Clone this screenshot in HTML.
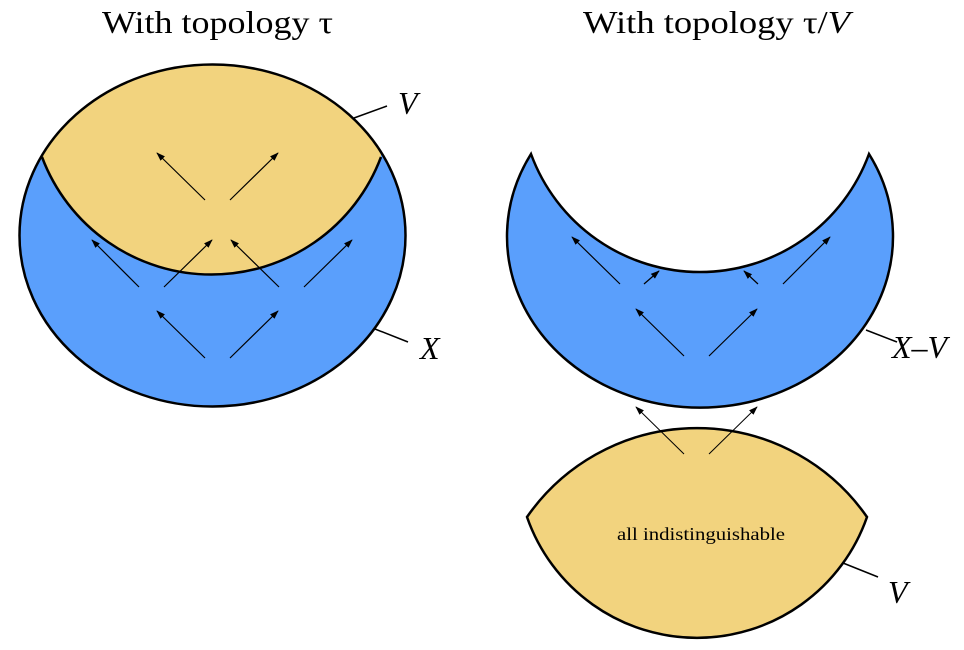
<!DOCTYPE html>
<html><head><meta charset="utf-8"><style>html,body{margin:0;padding:0;background:#fff}svg{display:block}</style></head>
<body>
<svg width="964" height="650" viewBox="0 0 964 650" xmlns="http://www.w3.org/2000/svg">
<defs>
<marker id="a" viewBox="0 0 10 10" refX="9" refY="5" markerWidth="9" markerHeight="9" markerUnits="userSpaceOnUse" orient="auto">
<path d="M0,1.5 L10,5 L0,8.5 z" fill="#000"/></marker>
<clipPath id="ce"><ellipse cx="212.5" cy="235.5" rx="193" ry="171"/></clipPath>
</defs>
<g font-family="Liberation Serif, serif" fill="#000">
<text x="102" y="33" font-size="32" textLength="231" lengthAdjust="spacingAndGlyphs">With topology τ</text>
<text x="583" y="33" font-size="32" textLength="267" lengthAdjust="spacingAndGlyphs">With topology τ/<tspan font-style="italic">V</tspan></text>
</g>
<!-- left -->
<ellipse cx="212.5" cy="235.5" rx="193" ry="171" fill="#5A9FFC"/>
<path d="M42,157 L42,40 L381,40 L381,157 A181,181 0 0 1 42,157 Z" fill="#F2D37E" clip-path="url(#ce)"/>
<path d="M381,157 A181,181 0 0 1 42,157" fill="none" stroke="#000" stroke-width="2.5"/>
<ellipse cx="212.5" cy="235.5" rx="193" ry="171" fill="none" stroke="#000" stroke-width="2.5"/>
<g stroke="#000" stroke-width="1.2" marker-end="url(#a)">
<line x1="205" y1="200" x2="157" y2="153"/><line x1="230" y1="200" x2="278" y2="153"/>
<line x1="139" y1="287" x2="92" y2="240"/><line x1="164" y1="287" x2="212" y2="240"/>
<line x1="279" y1="287" x2="231" y2="240"/><line x1="304" y1="287" x2="352" y2="240"/>
<line x1="205" y1="358" x2="157" y2="311"/><line x1="230" y1="358" x2="278" y2="311"/>
</g>
<line x1="354" y1="118" x2="387" y2="106" stroke="#000" stroke-width="1.5"/>
<line x1="375" y1="329" x2="408" y2="342" stroke="#000" stroke-width="1.5"/>
<g font-family="Liberation Serif, serif" font-style="italic" font-size="32" fill="#000">
<text x="398" y="114">V</text>
<text x="420" y="359">X</text>
<text x="892" y="358">X–V</text>
<text x="888" y="603">V</text>
</g>
<!-- right crescent -->
<path d="M531,154 A193,171 0 1 0 869,154 A180,180 0 0 1 531,154 Z" fill="#5A9FFC" stroke="#000" stroke-width="2.5"/>
<g stroke="#000" stroke-width="1.2" marker-end="url(#a)">
<line x1="620" y1="284" x2="572" y2="237"/><line x1="644" y1="284" x2="659" y2="271"/>
<line x1="758" y1="284" x2="744" y2="271"/><line x1="783" y1="284" x2="830" y2="237"/>
<line x1="684" y1="356" x2="636" y2="309"/><line x1="709" y1="356" x2="757" y2="309"/>
</g>
<line x1="866" y1="330" x2="897" y2="342" stroke="#000" stroke-width="1.5"/>
<!-- lens -->
<path d="M527,517 A207,207 0 0 1 867,517 A180,180 0 0 1 527,517 Z" fill="#F2D37E" stroke="#000" stroke-width="2.5"/>
<g stroke="#000" stroke-width="1" marker-end="url(#a)">
<line x1="684" y1="454" x2="636" y2="407"/><line x1="709" y1="454" x2="757" y2="407"/>
</g>
<line x1="843" y1="563" x2="878" y2="577" stroke="#000" stroke-width="1.5"/>
<text x="617" y="540" font-family="Liberation Serif, serif" font-size="18" textLength="168" lengthAdjust="spacingAndGlyphs">all indistinguishable</text>
</svg>
</body></html>
